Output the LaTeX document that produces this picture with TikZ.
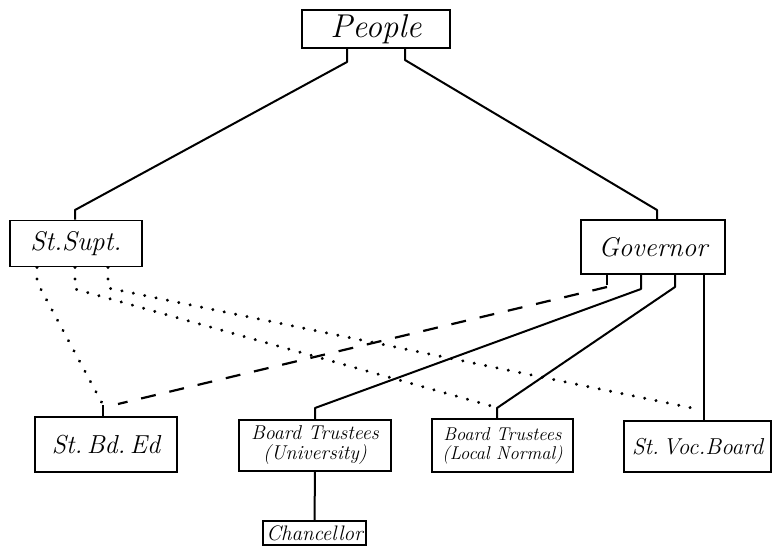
\documentclass[tikz,border=0pt]{standalone}
\usepackage{fontspec}
\setmainfont{Latin Modern Roman}
\usetikzlibrary{calc}
\begin{document}
\begin{tikzpicture}[x=1pt,y=-1pt,
  box/.style={draw,line width=1.8pt,inner sep=0pt,align=center},
  link/.style={line width=2pt,line join=round},
  dotlink/.style={line width=3.2pt,line cap=round,dash pattern=on 0.1pt off 11.5pt},
  dashlink/.style={line width=2.2pt,dash pattern=on 15pt off 14pt}]
\useasboundingbox (0,0) rectangle (772,546);
\fill[white] (0,0) rectangle (772,546);

% boxes
\node[box,minimum width=148pt,minimum height=38pt,font=\itshape\fontsize{33}{34}\selectfont] (people) at (376,29) {People};
\node[box,minimum width=132pt,minimum height=46pt,font=\itshape\fontsize{27}{28}\selectfont] (supt) at (76,243.5) {St.Supt.};
\node[box,minimum width=144pt,minimum height=54pt,font=\itshape\fontsize{27}{28}\selectfont] (gov) at (653,247) {Governor};
\node[box,minimum width=142pt,minimum height=55pt,font=\itshape\fontsize{26}{27}\selectfont] (bded) at (106,444.5) {St.\,Bd.\,Ed};
\node[box,minimum width=152pt,minimum height=51pt,font=\itshape\fontsize{20}{20}\selectfont] (btu) at (315,445.5) {Board Trustees\\(University)};
\node[box,minimum width=103pt,minimum height=24pt,font=\itshape\fontsize{21}{22}\selectfont] (chan) at (314.5,533) {Chancellor};
\node[box,minimum width=141pt,minimum height=53pt,font=\itshape\fontsize{18.5}{19}\selectfont] (btln) at (502.5,445.5) {Board Trustees\\(Local Normal)};
\node[box,minimum width=147pt,minimum height=51pt,font=\itshape\fontsize{23}{25}\selectfont] (voc) at (697.5,446.5) {St.\,Voc.Board};

% People to the two chief officers
\draw[link] (people.south -| 347,0) -- (347,62) -- (75,210) -- (supt.north -| 75,0);
\draw[link] (people.south -| 405,0) -- (405,60) -- (657,210) -- (gov.north -| 657,0);

% Governor appointments
\draw[link] (gov.south -| 607,0) -- (607,285);
\draw[dashlink] (607,287) -- (118,404);
\draw[link] (gov.south -| 641,0) -- (641,289) -- (315,408) -- (btu.north);
\draw[link] (gov.south -| 675,0) -- (675,287) -- (497,408) -- (btln.north -| 497,0);
\draw[link] (gov.south -| 704,0) -- (voc.north -| 704,0);
\draw[link] (btu.south) -- (chan.north);

% State Superintendent's advisory links
\draw[dotlink] (supt.south -| 37,0) -- (37,282) -- (102,403);
\draw[link] (103,405) -- (bded.north -| 103,0);
\draw[dotlink] (supt.south -| 75,0) -- (75,289) -- (495,407);
\draw[dotlink] (supt.south -| 108,0) -- (108,288) -- (697,409);
\end{tikzpicture}
\end{document}
